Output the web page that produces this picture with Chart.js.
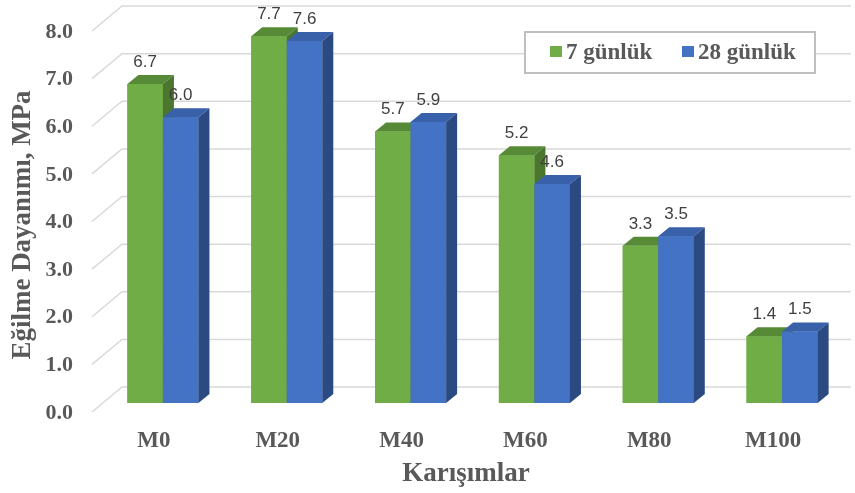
<!DOCTYPE html>
<html>
<head>
<meta charset="utf-8">
<script src="https://cdn.jsdelivr.net/npm/chart.js@4.4.1/dist/chart.umd.min.js"></script>
<style>
  html, body { margin: 0; padding: 0; background: #ffffff; }
  #wrap { width: 855px; height: 493px; }
</style>
</head>
<body>
<div id="wrap"><canvas id="barChart" width="855" height="493"></canvas></div>
<script>
// Data
const categories = ['M0', 'M20', 'M40', 'M60', 'M80', 'M100'];
const seriesNames = ['7 günlük', '28 günlük'];
const values7 = [6.7, 7.7, 5.7, 5.2, 3.3, 1.4];
const values28 = [6.0, 7.6, 5.9, 4.6, 3.5, 1.5];
const yTicks = [0, 1, 2, 3, 4, 5, 6, 7, 8];
const xTitle = 'Karışımlar';
const yTitle = 'Eğilme Dayanımı, MPa';

const SERIF = "'Liberation Serif', 'Times New Roman', serif";
const SANS = "'Liberation Sans', Arial, sans-serif";
const TEXT_GRAY = '#595959';

// face colours: front, top, side
const faces = [
    { front: '#70ad47', top: '#578a37', side: '#4a762e' },   // green - 7 days
    { front: '#4472c4', top: '#3961a9', side: '#2b4a82' }    // blue - 28 days
];

const DEPTH_X = 11;
const DEPTH_Y = -9;

/**
 * Back-wall grid lines with the little diagonal to the front axis
 */
const wallGrid = {
    id: 'wallGrid',
    beforeDatasetsDraw(chart) {
        const ctx = chart.ctx;
        const yScale = chart.scales.y;
        ctx.save();
        ctx.strokeStyle = '#d9d9d9';
        ctx.lineWidth = 1.5;
        yTicks.forEach(v => {
            const py = yScale.getPixelForValue(v);
            ctx.beginPath();
            ctx.moveTo(92, py + 9);
            ctx.lineTo(122, py - 16);
            ctx.lineTo(851, py - 16);
            ctx.stroke();
        });
        ctx.restore();
    }
};

/**
 * Redraw every column as a 3D block (front, top, side), green series first
 * so the blue front covers the green side, then the value labels.
 */
const bar3d = {
    id: 'bar3d',
    afterDatasetsDraw(chart) {
        const ctx = chart.ctx;
        ctx.save();
        chart.data.datasets.forEach((ds, i) => {
            const col = faces[i];
            chart.getDatasetMeta(i).data.forEach(el => {
                const p = el.getProps(['x', 'y', 'base', 'width'], true);
                const x0 = p.x - p.width / 2;
                const x1 = p.x + p.width / 2;
                // front
                ctx.fillStyle = col.front;
                ctx.fillRect(x0, p.y, x1 - x0, p.base - p.y);
                // top
                ctx.fillStyle = col.top;
                ctx.beginPath();
                ctx.moveTo(x0, p.y);
                ctx.lineTo(x1, p.y);
                ctx.lineTo(x1 + DEPTH_X, p.y + DEPTH_Y);
                ctx.lineTo(x0 + DEPTH_X, p.y + DEPTH_Y);
                ctx.closePath();
                ctx.fill();
                // side
                ctx.fillStyle = col.side;
                ctx.beginPath();
                ctx.moveTo(x1, p.y);
                ctx.lineTo(x1 + DEPTH_X, p.y + DEPTH_Y);
                ctx.lineTo(x1 + DEPTH_X, p.base + DEPTH_Y);
                ctx.lineTo(x1, p.base);
                ctx.closePath();
                ctx.fill();
            });
        });

        // value labels above each column
        ctx.font = '17px ' + SANS;
        ctx.fillStyle = '#404040';
        ctx.textAlign = 'center';
        ctx.textBaseline = 'middle';
        chart.data.datasets.forEach((ds, i) => {
            chart.getDatasetMeta(i).data.forEach((el, j) => {
                const p = el.getProps(['x', 'y'], true);
                ctx.fillText(ds.data[j].toFixed(1), p.x, p.y - 22);
            });
        });
        ctx.restore();
    }
};

/**
 * Axis titles and the boxed legend
 */
const titlesAndLegend = {
    id: 'titlesAndLegend',
    afterDraw(chart) {
        const ctx = chart.ctx;
        ctx.save();
        ctx.fillStyle = TEXT_GRAY;
        ctx.font = 'bold 27px ' + SERIF;
        ctx.textAlign = 'center';
        ctx.textBaseline = 'middle';
        ctx.fillText(xTitle, 466, 474);

        ctx.translate(23, 225);
        ctx.rotate(-Math.PI / 2);
        ctx.fillText(yTitle, 0, 0);
        ctx.restore();

        // legend box
        ctx.save();
        ctx.fillStyle = '#ffffff';
        ctx.fillRect(525, 32, 290, 41);
        ctx.strokeStyle = '#bfbfbf';
        ctx.lineWidth = 2;
        ctx.strokeRect(525, 32, 290, 41);
        ctx.font = 'bold 23px ' + SERIF;
        ctx.textAlign = 'left';
        ctx.textBaseline = 'middle';
        const itemX = [550, 682];
        seriesNames.forEach((name, i) => {
            ctx.fillStyle = faces[i].front;
            ctx.fillRect(itemX[i], 46, 12, 11);
            ctx.fillStyle = TEXT_GRAY;
            ctx.fillText(name, itemX[i] + 16, 53);
        });
        ctx.restore();
    }
};

const ctx = document.getElementById('barChart');

new Chart(ctx, {
    type: 'bar',
    data: {
        labels: categories,
        datasets: [
            {
                label: seriesNames[0],
                data: values7,
                backgroundColor: faces[0].front,
                borderWidth: 0
            },
            {
                label: seriesNames[1],
                data: values28,
                backgroundColor: faces[1].front,
                borderWidth: 0
            }
        ]
    },
    options: {
        responsive: false,
        animation: false,
        events: [],
        layout: {
            padding: { top: 22, right: 11, bottom: 0, left: 0 }
        },
        datasets: {
            bar: {
                categoryPercentage: 0.574,
                barPercentage: 1.0
            }
        },
        plugins: {
            legend: { display: false },
            tooltip: { enabled: false }
        },
        scales: {
            x: {
                grid: { display: false, drawTicks: false },
                border: { display: false },
                ticks: {
                    color: TEXT_GRAY,
                    font: { family: SERIF, size: 23, weight: 'bold' },
                    padding: 24,
                    labelOffset: -9,
                    maxRotation: 0
                },
                afterFit(scale) { scale.height = 90; }
            },
            y: {
                min: 0,
                max: 8,
                grid: { display: false, drawTicks: false },
                border: { display: false },
                afterBuildTicks(scale) {
                    scale.ticks = yTicks.map(v => ({ value: v }));
                },
                ticks: {
                    color: TEXT_GRAY,
                    font: { family: SERIF, size: 22, weight: 'bold' },
                    padding: 28,
                    labelOffset: 10,
                    callback: v => Number(v).toFixed(1)
                },
                afterFit(scale) {
                    scale.width = 101;
                    scale.paddingTop = 0;
                    scale.paddingBottom = 0;
                }
            }
        }
    },
    plugins: [wallGrid, bar3d, titlesAndLegend]
});
</script>
</body>
</html>
